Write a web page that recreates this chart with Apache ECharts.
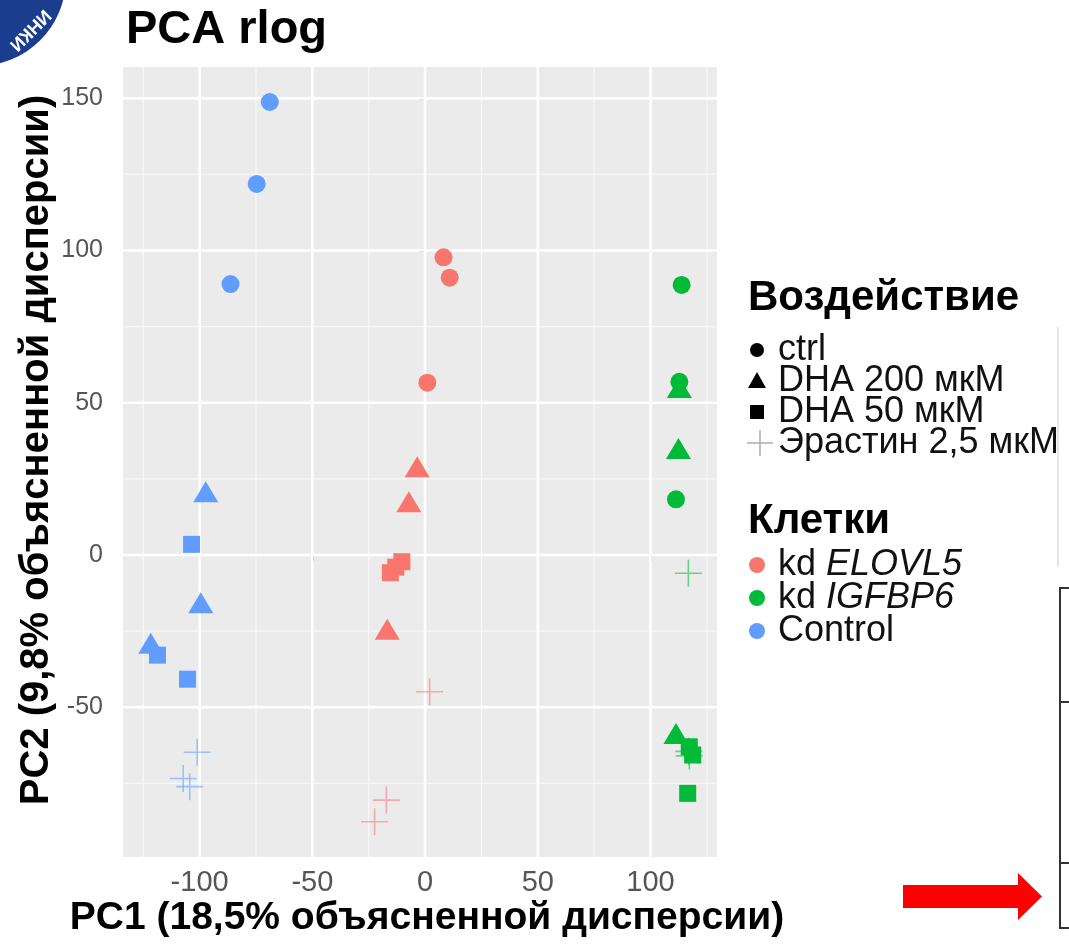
<!DOCTYPE html>
<html>
<head>
<meta charset="utf-8">
<script src="https://cdn.jsdelivr.net/npm/echarts@6/dist/echarts.min.js"></script>
<style>
  html, body { margin: 0; padding: 0; background: #ffffff; }
  #chart { width: 1069px; height: 944px; }
</style>
</head>
<body>
<div id="chart"></div>
<script>
// Cell lines and treatments
const cellLines = ['kd ELOVL5', 'kd IGFBP6', 'Control'];
const cellItalic = ['ELOVL5', 'IGFBP6', null];
const cellColors = ['#F8766D', '#00BA38', '#619CFF'];
const treatments = ['ctrl', 'DHA 200 мкМ', 'DHA 50 мкМ', 'Эрастин 2,5 мкМ'];

// PCA scores [PC1, PC2] per cell line and treatment
const elovl5Ctrl   = [[8.2, 97.8], [10.9, 91.1], [1.0, 56.6]];
const elovl5Dha200 = [[-3.5, 29.0], [-7.2, 17.5], [-16.8, -24.4]];
const elovl5Dha50  = [[-10.3, -2.2], [-15.4, -5.8], [-13.0, -4.0]];
const elovl5Erast  = [[2.0, -44.9], [-17.2, -80.5], [-22.4, -87.6]];

const igfbp6Ctrl   = [[113.8, 88.7], [112.8, 56.9], [111.3, 18.3]];
const igfbp6Dha200 = [[112.8, 55.0], [112.4, 35.0], [111.3, -58.6]];
const igfbp6Dha50  = [[117.2, -63.0], [118.7, -65.7], [116.5, -78.3]];
const igfbp6Erast  = [[116.8, -6.0], [117.0, -64.5], [117.2, -66.0]];

const controlCtrl   = [[-68.9, 148.8], [-74.7, 121.9], [-86.3, 89.0]];
const controlDha200 = [[-97.3, 20.8], [-99.5, -15.7], [-121.7, -29.0]];
const controlDha50  = [[-103.6, 3.5], [-118.7, -32.9], [-105.4, -40.8]];
const controlErast  = [[-101.1, -64.8], [-107.3, -73.4], [-104.4, -76.1]];

const scores = [
  [elovl5Ctrl, elovl5Dha200, elovl5Dha50, elovl5Erast],
  [igfbp6Ctrl, igfbp6Dha200, igfbp6Dha50, igfbp6Erast],
  [controlCtrl, controlDha200, controlDha50, controlErast]
];

// Axis ticks and panel range
const xTicks = [-100, -50, 0, 50, 100];
const xMinor = [-125, -75, -25, 25, 75, 125];
const yTicks = [-50, 0, 50, 100, 150];
const yMinor = [-75, -25, 25, 75, 125];
const xRange = [-134, 129.5];
const yRange = [-99.2, 160.3];

const PLUS = 'path://M47,0H53V47H100V53H53V100H47V53H0V47H47Z';
const shapeSymbols = ['circle', 'triangle', 'rect', PLUS];
const shapeSizes = [18, [25, 21], 17, 27];
const FONT = '"Liberation Sans", Arial, sans-serif';

const series = [];
// white panel grid lines, drawn as plain line series through the axes
function gridLine(points, color, width) {
  series.push({
    type: 'line', data: points, z: 1, silent: true, symbol: 'none', showSymbol: false,
    lineStyle: { color: color, width: width }, emphasis: { disabled: true }, tooltip: { show: false }
  });
}
xMinor.forEach(v => gridLine([[v, yRange[0]], [v, yRange[1]]], '#f7f7f7', 1.3));
yMinor.forEach(v => gridLine([[xRange[0], v], [xRange[1], v]], '#f7f7f7', 1.3));
xTicks.forEach(v => gridLine([[v, yRange[0]], [v, yRange[1]]], '#ffffff', 2.6));
yTicks.forEach(v => gridLine([[xRange[0], v], [xRange[1], v]], '#ffffff', 2.6));

scores.forEach((byTreat, ci) => {
  byTreat.forEach((pts, ti) => {
    const isPlus = ti === 3;
    series.push({
      name: cellLines[ci] + ' / ' + treatments[ti],
      type: 'scatter',
      z: isPlus ? 2 : 3,
      data: pts,
      symbol: shapeSymbols[ti],
      symbolSize: shapeSizes[ti],
      itemStyle: {
        color: cellColors[ci],
        opacity: isPlus ? 0.55 : 1
      }
    });
  });
});

// legend rows
const legendGraphics = [];
const LX = 757, TX = 778;
const treatRowsY = [350, 381, 412, 443];
const legendShapes = [
  { type: 'circle', shape: { cx: 0, cy: 0, r: 7 } },
  { type: 'polygon', shape: { points: [[0, -9], [9, 7], [-9, 7]] } },
  { type: 'rect', shape: { x: -7, y: -7, width: 14, height: 14 } },
  { type: 'group', children: [
      { type: 'rect', shape: { x: -0.8, y: -13, width: 1.6, height: 26 }, style: { fill: '#b0b0b0' } },
      { type: 'rect', shape: { x: -13, y: -0.8, width: 26, height: 1.6 }, style: { fill: '#b0b0b0' } }
  ] }
];
treatments.forEach((t, i) => {
  const s = Object.assign({}, legendShapes[i]);
  s.x = i === 3 ? LX + 3 : LX;
  s.y = treatRowsY[i];
  if (s.type !== 'group') s.style = { fill: '#000' };
  legendGraphics.push(s);
  legendGraphics.push({
    type: 'text', x: TX, y: treatRowsY[i],
    style: { text: t, fill: '#111', font: '36px ' + FONT, verticalAlign: 'middle' }
  });
});
const cellRowsY = [565, 598, 631];
cellLines.forEach((c, i) => {
  legendGraphics.push({
    type: 'circle', x: LX, y: cellRowsY[i], shape: { cx: 0, cy: 0, r: 8 },
    style: { fill: cellColors[i] }
  });
  const label = cellItalic[i] ? '{n|kd }{i|' + cellItalic[i] + '}' : '{n|' + c + '}';
  legendGraphics.push({
    type: 'text', x: TX, y: cellRowsY[i],
    style: {
      text: label, verticalAlign: 'middle',
      rich: {
        n: { fill: '#111', font: '36px ' + FONT },
        i: { fill: '#111', font: 'italic 36px ' + FONT }
      }
    }
  });
});

const chart = echarts.init(document.getElementById('chart'), null, { renderer: 'canvas' });
chart.setOption({
  animation: false,
  backgroundColor: '#ffffff',
  tooltip: { show: false },
  grid: {
    left: 123, right: 352, top: 67, bottom: 87,
    show: true, backgroundColor: '#ebebeb', borderWidth: 0
  },
  xAxis: {
    type: 'value', min: xRange[0], max: xRange[1],
    axisLine: { show: false },
    splitLine: { show: false },
    axisTick: { show: true, customValues: xTicks, length: 6, lineStyle: { color: '#666', width: 1.5 } },
    axisLabel: { customValues: xTicks, fontSize: 29, color: '#555', margin: 11, fontFamily: FONT }
  },
  yAxis: {
    type: 'value', min: yRange[0], max: yRange[1],
    axisLine: { show: false },
    splitLine: { show: false },
    axisTick: { show: true, customValues: yTicks, length: 6, lineStyle: { color: '#666', width: 1.5 } },
    axisLabel: { customValues: yTicks, fontSize: 25, color: '#555', margin: 20, fontFamily: FONT }
  },
  series: series,
  graphic: [
    // emblem in the corner
    { type: 'circle', x: -22, y: -22, shape: { cx: 0, cy: 0, r: 88 }, style: { fill: '#1b3d8e' }, z: 10 },
    { type: 'text', x: 30, y: 30, rotation: Math.PI / 4 + Math.PI, z: 11,
      style: { text: 'ИНКИ', fill: '#ffffff', font: 'bold 18px ' + FONT,
        align: 'center', verticalAlign: 'middle' } },
    // title
    { type: 'text', x: 126, y: 30, z: 10,
      style: { text: 'PCA rlog', fill: '#000', font: 'bold 47px ' + FONT, verticalAlign: 'middle' } },
    // axis titles
    { type: 'text', x: 427, y: 918, z: 10,
      style: { text: 'PC1 (18,5% объясненной дисперсии)', fill: '#000',
        font: 'bold 39px ' + FONT, align: 'center', verticalAlign: 'middle' } },
    { type: 'text', x: 37, y: 450, rotation: Math.PI / 2, z: 10,
      style: { text: 'PC2 (9,8% объясненной дисперсии)', fill: '#000',
        font: 'bold 40px ' + FONT, align: 'center', verticalAlign: 'middle' } },
    // legend titles
    { type: 'text', x: 748, y: 298, z: 10,
      style: { text: 'Воздействие', fill: '#000', font: 'bold 42px ' + FONT, verticalAlign: 'middle' } },
    { type: 'text', x: 748, y: 521, z: 10,
      style: { text: 'Клетки', fill: '#000', font: 'bold 42px ' + FONT, verticalAlign: 'middle' } },
    ...legendGraphics.map(g => Object.assign({ z: 10 }, g)),
    // faint panel edge beside the legend
    { type: 'line', shape: { x1: 1058, y1: 327, x2: 1058, y2: 567 }, style: { stroke: '#dddddd', lineWidth: 1.5 }, z: 5 },
    // table fragment at bottom right
    { type: 'polyline', shape: { points: [[1069, 588], [1060, 588], [1060, 928], [1069, 928]] },
      style: { stroke: '#333', lineWidth: 2, fill: null }, z: 10 },
    { type: 'line', shape: { x1: 1060, y1: 702, x2: 1069, y2: 702 }, style: { stroke: '#333', lineWidth: 2 }, z: 10 },
    { type: 'line', shape: { x1: 1060, y1: 863, x2: 1069, y2: 863 }, style: { stroke: '#333', lineWidth: 2 }, z: 10 },
    // red arrow
    { type: 'polygon', z: 10,
      shape: { points: [[903, 885], [1018, 885], [1018, 873], [1042, 896.5], [1018, 920], [1018, 908], [903, 908]] },
      style: { fill: '#ff0000' } }
  ]
});
</script>
</body>
</html>
